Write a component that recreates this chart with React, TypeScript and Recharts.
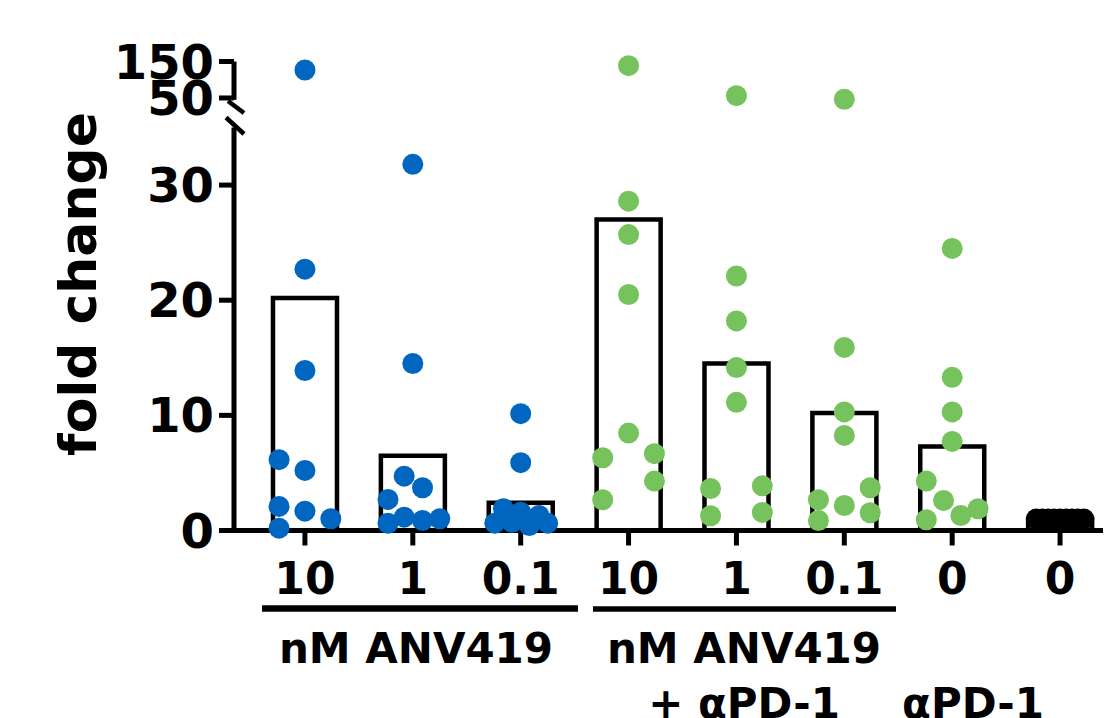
import React from 'react';
import { ComposedChart, Bar, Scatter, XAxis, YAxis } from 'recharts';

// ---- data ----
const categories = ['10', '1', '0.1', '10', '1', '0.1', '0', '0'];
const barMeans = [20.2, 6.5, 2.4, 27.0, 14.5, 10.2, 7.3, 1.0];

const blue10 = [126.7, 22.7, 13.9, 6.15, 5.22, 2.09, 1.68, 1.02, 0.2];
const blue10Jitter = [0, 0, 0, -0.24, 0, -0.24, 0, 0.24, -0.24];
const blue1 = [31.8, 14.5, 4.72, 3.71, 2.7, 0.63, 1.16, 0.87, 1.02];
const blue1Jitter = [0, 0, -0.08, 0.09, -0.23, -0.23, -0.08, 0.09, 0.25];
const blue01 = [10.15, 5.89, 1.89, 1.59, 1.3, 0.64, 0.72, 0.43, 0.64];
const blue01Jitter = [0, 0, -0.16, 0, 0.17, -0.24, -0.08, 0.08, 0.25];
const green10 = [138.5, 28.6, 25.7, 20.5, 8.46, 6.32, 6.67, 4.29, 2.67];
const green10Jitter = [0, 0, 0, 0, 0, -0.24, 0.24, 0.24, -0.24];
const green1 = [56.3, 22.1, 18.2, 14.15, 11.13, 3.65, 3.88, 1.28, 1.57];
const green1Jitter = [0, 0, 0, 0, 0, -0.24, 0.24, -0.24, 0.24];
const green01 = [46.4, 15.9, 10.3, 8.26, 3.71, 2.67, 2.17, 1.54, 0.87];
const green01Jitter = [0, 0, 0, 0, 0.24, -0.24, 0, 0.24, -0.24];
const greenPd1 = [24.5, 13.3, 10.3, 7.74, 4.29, 2.61, 1.3, 1.89, 0.93];
const greenPd1Jitter = [0, 0, 0, 0, -0.24, -0.08, 0.08, 0.24, -0.24];
const untreated = [1, 1, 1, 1, 1, 1, 1, 1, 1];
const untreatedJitter = [-0.22, -0.165, -0.11, -0.055, 0, 0.055, 0.11, 0.165, 0.22];

const lowerTicks = [0, 10, 20, 30];
const upperTicks = [50, 150];
const lowerDomain: [number, number] = [0, 35];
const upperDomain: [number, number] = [45, 150];
const breakValue = 40;

const BLUE = '#0066BF';
const GREEN = '#76C25C';
const BLACK = '#000000';
const FONT = '"DejaVu Sans", Verdana, sans-serif';

const barData = categories.map((c, i) => ({ key: `c${i}`, label: c, mean: barMeans[i] }));

const mk = (vals: number[], jit: number[], idx: number) =>
  vals.map((v, k) => ({ x: idx + jit[k], y: v }));

const bluePts = [
  ...mk(blue10, blue10Jitter, 0),
  ...mk(blue1, blue1Jitter, 1),
  ...mk(blue01, blue01Jitter, 2),
];
const greenPts = [
  ...mk(green10, green10Jitter, 3),
  ...mk(green1, green1Jitter, 4),
  ...mk(green01, green01Jitter, 5),
  ...mk(greenPd1, greenPd1Jitter, 6),
];
const blackPts = mk(untreated, untreatedJitter, 7);

const lowOf = (p: { y: number }[]) => p.filter((d) => d.y < breakValue);
const highOf = (p: { y: number }[]) => p.filter((d) => d.y >= breakValue);

const dot = (color: string) => (props: any) =>
  <circle cx={props.cx} cy={props.cy} r={10.5} fill={color} stroke="none" />;

const CHART_W = 1106;
const PLOT_LEFT = 226;
const LOW_TOP = 119.5;
const LOW_PLOT_H = 403;
const XAXIS_H = 90;
const UP_TOP = 53.5;
const UP_PLOT_H = 38.3;

const axisStyle = { stroke: BLACK, strokeWidth: 5 };
const yTick = { fontSize: 48, fontWeight: 700, fill: BLACK, fontFamily: FONT };
const xTick = { fontSize: 44, fontWeight: 700, fill: BLACK, fontFamily: FONT };

export default function App() {
  return (
    <div style={{ position: 'relative', width: 1103, height: 710, overflow: 'hidden', background: '#fff' }}>
      <div style={{ position: 'absolute', left: 0, top: 0 }}>
        <ComposedChart
          width={CHART_W}
          height={LOW_TOP + LOW_PLOT_H + XAXIS_H}
          data={barData}
          margin={{ top: LOW_TOP, right: 0, bottom: 0, left: 0 }}
        >
          <XAxis
            xAxisId="cat"
            dataKey="key"
            type="category"
            padding={{ left: 17, right: 0 }}
            axisLine={axisStyle}
            tickLine={axisStyle}
            tickSize={15}
            tickMargin={17}
            height={XAXIS_H}
            interval={0}
            tick={xTick}
            tickFormatter={(_v: any, i: number) => categories[i]}
          />
          <XAxis
            xAxisId="num"
            dataKey="x"
            type="number"
            domain={[-0.5, 7.5]}
            padding={{ left: 17, right: 0 }}
            hide
          />
          <YAxis
            type="number"
            domain={lowerDomain}
            ticks={lowerTicks}
            width={PLOT_LEFT}
            axisLine={axisStyle}
            tickLine={axisStyle}
            tickSize={15}
            tickMargin={5}
            tick={yTick}
            interval={0}
          />
          <Bar
            xAxisId="cat"
            dataKey="mean"
            barSize={64}
            fill="#ffffff"
            stroke={BLACK}
            strokeWidth={4.5}
            isAnimationActive={false}
          />
          <Scatter xAxisId="num" data={lowOf(bluePts)} dataKey="y" shape={dot(BLUE)} isAnimationActive={false} />
          <Scatter xAxisId="num" data={lowOf(greenPts)} dataKey="y" shape={dot(GREEN)} isAnimationActive={false} />
          <Scatter xAxisId="num" data={lowOf(blackPts)} dataKey="y" shape={dot(BLACK)} isAnimationActive={false} />
        </ComposedChart>
      </div>

      <div style={{ position: 'absolute', left: 0, top: 0 }}>
        <ComposedChart
          width={CHART_W}
          height={UP_TOP + UP_PLOT_H + 20}
          margin={{ top: UP_TOP, right: 0, bottom: 20, left: 0 }}
        >
          <XAxis
            dataKey="x"
            type="number"
            domain={[-0.5, 7.5]}
            padding={{ left: 17, right: 0 }}
            hide
          />
          <YAxis
            type="number"
            domain={upperDomain}
            ticks={upperTicks}
            width={PLOT_LEFT}
            axisLine={axisStyle}
            tickLine={axisStyle}
            tickSize={15}
            tickMargin={5}
            tick={yTick}
            interval={0}
          />
          <Scatter data={highOf(bluePts)} dataKey="y" shape={dot(BLUE)} isAnimationActive={false} />
          <Scatter data={highOf(greenPts)} dataKey="y" shape={dot(GREEN)} isAnimationActive={false} />
        </ComposedChart>
      </div>

      <svg
        width={1103}
        height={710}
        style={{ position: 'absolute', left: 0, top: 0, pointerEvents: 'none' }}
      >
        {/* axis break marks */}
        <line x1={220} y1={93} x2={236} y2={105} stroke={BLACK} strokeWidth={4.5} />
        <line x1={218} y1={109.5} x2={236} y2={126} stroke={BLACK} strokeWidth={4.5} />
        {/* y axis title */}
        <text
          transform="translate(88,276) rotate(-90)"
          textAnchor="middle"
          fontFamily={FONT}
          fontWeight={700}
          fontSize={52}
          fill={BLACK}
        >
          fold change
        </text>
        {/* group underlines */}
        <line x1={254} y1={600.5} x2={570} y2={600.5} stroke={BLACK} strokeWidth={6.5} />
        <line x1={585} y1={601} x2={888} y2={601} stroke={BLACK} strokeWidth={5.5} />
        {/* group labels */}
        <g fontFamily={FONT} fontWeight={700} fontSize={42} fill={BLACK} textAnchor="middle">
          <text x={408} y={655}>nM ANV419</text>
          <text x={736} y={655}>nM ANV419</text>
          <text x={736} y={710}>+ αPD-1</text>
          <text x={965} y={710}>αPD-1</text>
        </g>
      </svg>
    </div>
  );
}
